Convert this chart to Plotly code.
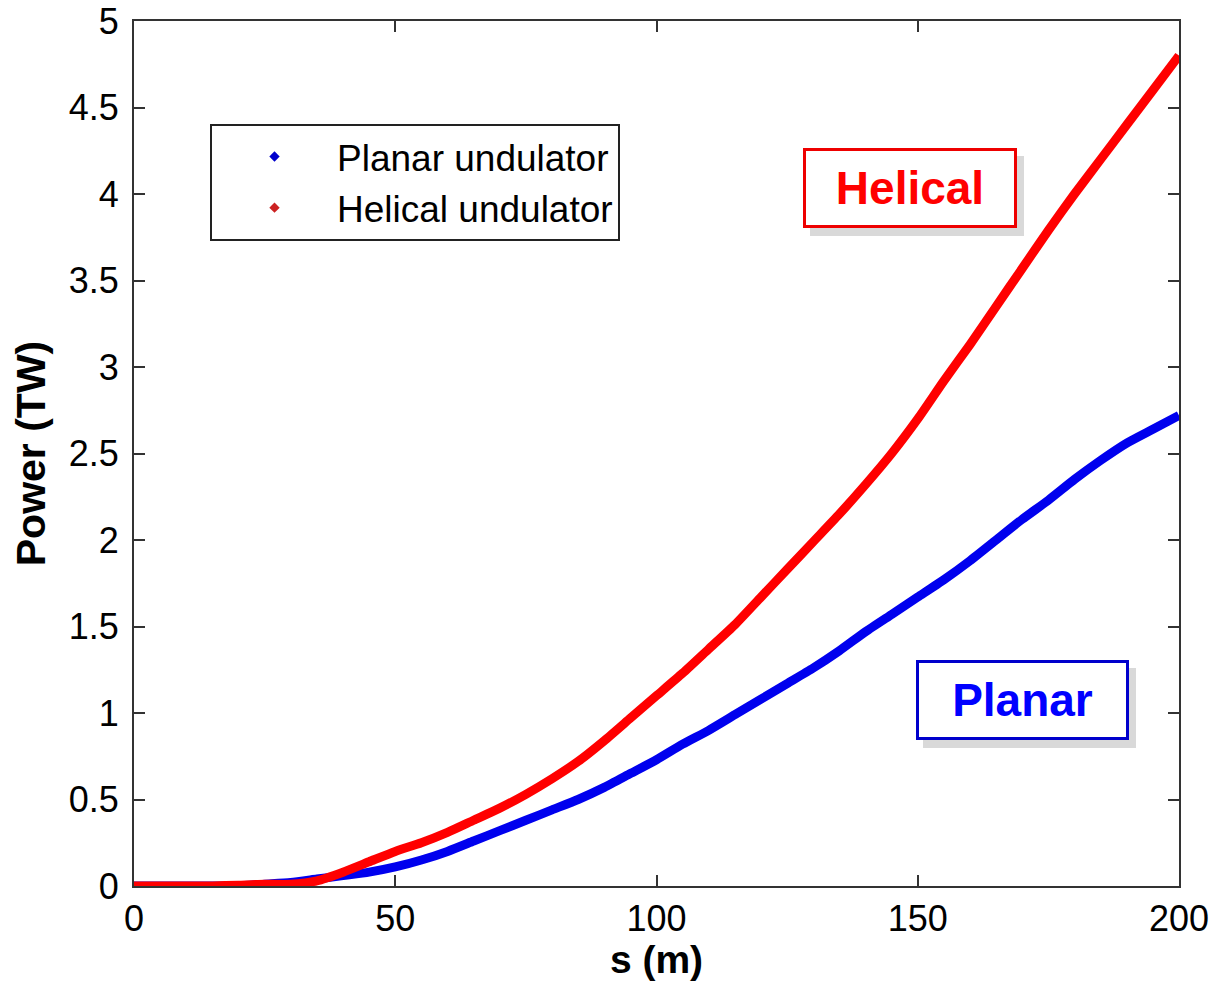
import plotly.graph_objects as go

s_m = [0, 5, 10, 15, 20, 25, 30, 35, 40, 45, 50, 55, 60, 65, 70, 75, 80, 85, 90, 95, 100,
       105, 110, 115, 120, 125, 130, 135, 140, 145, 150, 155, 160, 165, 170, 175, 180, 185, 190, 195, 200]

planar_tw = [0, 0, 0, 0, 0, 0.01, 0.02, 0.04, 0.06, 0.08, 0.11, 0.15, 0.20, 0.26, 0.32, 0.38, 0.44, 0.50,
             0.57, 0.65, 0.73, 0.82, 0.90, 0.99, 1.08, 1.17, 1.26, 1.36, 1.47, 1.57, 1.67, 1.77, 1.88,
             2.00, 2.12, 2.23, 2.35, 2.46, 2.56, 2.64, 2.72]

helical_tw = [0, 0, 0, 0, 0.005, 0.01, 0.01, 0.03, 0.08, 0.14, 0.20, 0.25, 0.31, 0.38, 0.45, 0.53, 0.62,
              0.72, 0.84, 0.97, 1.10, 1.23, 1.37, 1.51, 1.67, 1.83, 1.99, 2.15, 2.32, 2.50, 2.70, 2.92,
              3.13, 3.35, 3.57, 3.79, 4.00, 4.20, 4.40, 4.60, 4.80]

x_ticks = [0, 50, 100, 150, 200]
y_ticks = [0, 0.5, 1, 1.5, 2, 2.5, 3, 3.5, 4, 4.5, 5]
y_tick_labels = ["0", "0.5", "1", "1.5", "2", "2.5", "3", "3.5", "4", "4.5", "5"]

BLUE = "#0000ee"
RED = "#ff0000"
FONT = "Liberation Sans, Arial, sans-serif"

fig = go.Figure()
fig.add_trace(go.Scatter(x=s_m, y=planar_tw, mode="lines",
                         line=dict(color=BLUE, width=9, shape="spline", smoothing=0.6),
                         showlegend=False))
fig.add_trace(go.Scatter(x=s_m, y=helical_tw, mode="lines",
                         line=dict(color=RED, width=9, shape="spline", smoothing=0.6),
                         showlegend=False))
# legend entries (dot markers as in the original)
fig.add_trace(go.Scatter(x=[None], y=[None], mode="markers", name="Planar undulator",
                         marker=dict(symbol="diamond", size=8, color="#0000cc")))
fig.add_trace(go.Scatter(x=[None], y=[None], mode="markers", name="Helical undulator",
                         marker=dict(symbol="diamond", size=8, color="#cc2222")))

axis_common = dict(showgrid=False, zeroline=False, showline=True, linecolor="#333333", linewidth=2,
                   mirror="ticks", ticks="inside", ticklen=11, tickwidth=2, tickcolor="#333333",
                   automargin=False,
                   tickfont=dict(family=FONT, size=36, color="black"))

fig.update_xaxes(range=[0, 200], tickvals=x_ticks,
                 title=dict(text="<b>s (m)</b>", font=dict(family=FONT, size=39, color="black"), standoff=12),
                 **axis_common)
fig.update_yaxes(range=[0, 5], tickvals=y_ticks, ticktext=y_tick_labels, ticklabelstandoff=6,
                 title=dict(text="<b>Power (TW)</b>", font=dict(family=FONT, size=41, color="black"), standoff=10),
                 **axis_common)

# shadows for the labelled boxes
fig.add_shape(type="rect", xref="paper", yref="paper",
              x0=(810 - 134) / 1045, x1=(1024 - 134) / 1045,
              y0=(886 - 236) / 865, y1=(886 - 156) / 865,
              fillcolor="rgba(0,0,0,0.15)", line=dict(width=0), layer="above")
fig.add_shape(type="rect", xref="paper", yref="paper",
              x0=(923 - 134) / 1045, x1=(1136 - 134) / 1045,
              y0=(886 - 748) / 865, y1=(886 - 668) / 865,
              fillcolor="rgba(0,0,0,0.15)", line=dict(width=0), layer="above")

fig.add_annotation(text="<b>Helical</b>", xref="paper", yref="paper",
                   x=(910 - 134) / 1045, y=(886 - 188) / 865, showarrow=False,
                   font=dict(family=FONT, size=46, color=RED),
                   bordercolor="#ee0000", borderwidth=3, borderpad=0, bgcolor="white",
                   width=208, height=74, xanchor="center", yanchor="middle")
fig.add_annotation(text="<b>Planar</b>", xref="paper", yref="paper",
                   x=(1022 - 134) / 1045, y=(886 - 700) / 865, showarrow=False,
                   font=dict(family=FONT, size=46, color="#0000ff"),
                   bordercolor="#0000cc", borderwidth=3, borderpad=0, bgcolor="white",
                   width=207, height=74, xanchor="center", yanchor="middle")

fig.update_layout(
    width=1211, height=981,
    margin=dict(l=134, r=32, t=21, b=95, autoexpand=False),
    paper_bgcolor="white", plot_bgcolor="white",
    font=dict(family=FONT, color="black"),
    legend=dict(x=(210 - 134) / 1045, y=(886 - 124) / 865, xanchor="left", yanchor="top",
                bgcolor="white", bordercolor="#222222", borderwidth=2,
                font=dict(family=FONT, size=37, color="black"),
                itemwidth=115, tracegroupgap=0),
)

fig.write_html("out.html")
